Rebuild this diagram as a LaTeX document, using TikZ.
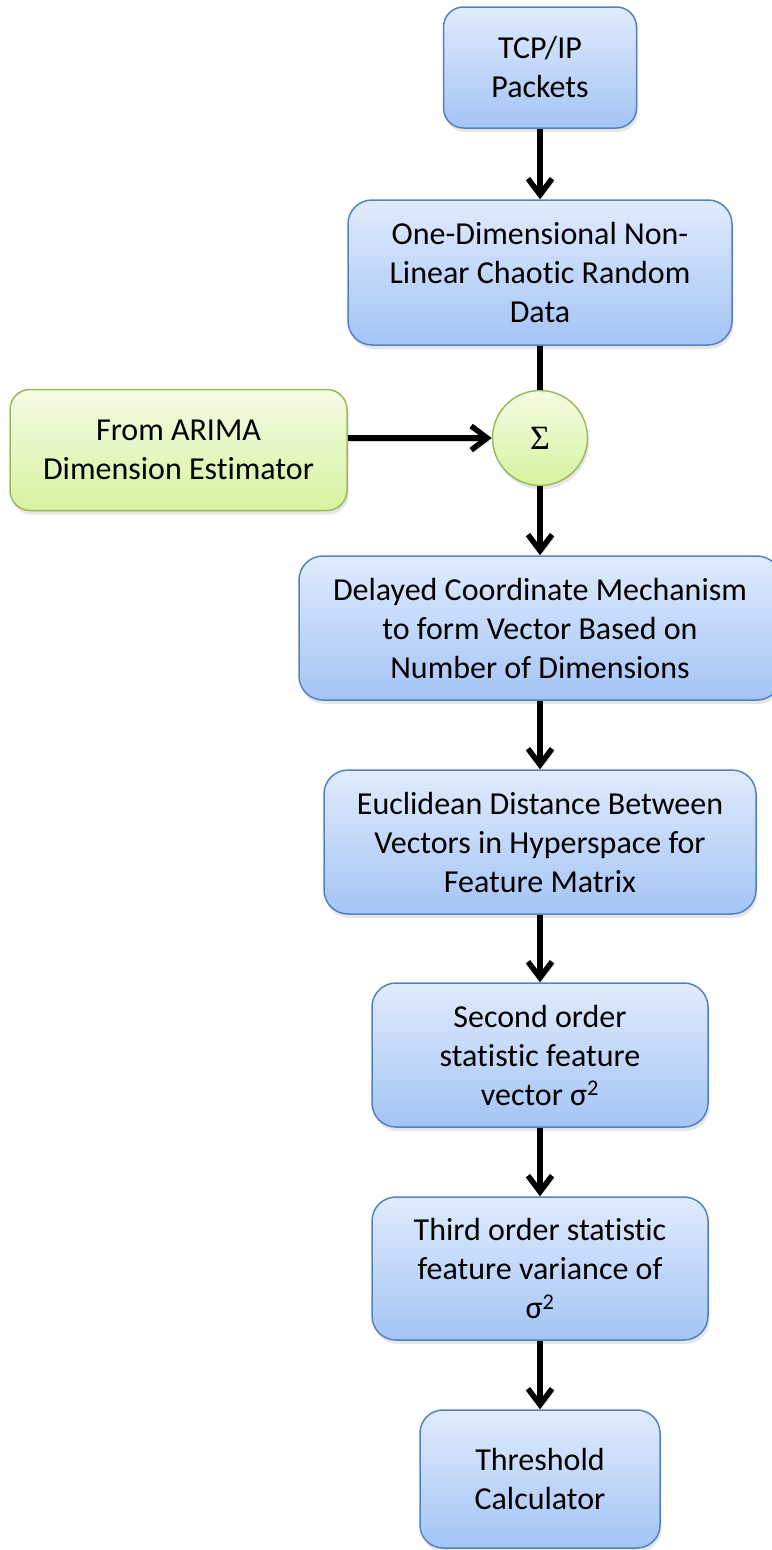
\documentclass[tikz,border=0pt]{standalone}
\usepackage{fontspec}
\setmainfont{Carlito}[Ligatures=NoCommon]
\newfontfamily\sumfont{Liberation Serif}
\usetikzlibrary{arrows.meta,shadows}

\definecolor{boxline}{RGB}{84,130,190}
\definecolor{boxtop}{RGB}{224,235,253}
\definecolor{boxbot}{RGB}{164,196,245}
\definecolor{grnline}{RGB}{155,187,89}
\definecolor{grntop}{RGB}{244,251,228}
\definecolor{grnbot}{RGB}{214,243,160}

\begin{document}
\begin{tikzpicture}[x=1pt,y=-1pt,
  basebox/.style={line width=1.5pt, align=center, inner sep=0pt,
    font=\fontsize{32}{39}\selectfont,
    drop shadow={opacity=0.2, shadow xshift=1.5pt, shadow yshift=-4pt}},
  bluebox/.style={basebox, draw=boxline, top color=boxtop, bottom color=boxbot},
  greenbox/.style={basebox, draw=grnline, top color=grntop, bottom color=grnbot},
  flow/.style={line width=5.5pt, draw=black,
    preaction={draw=black, opacity=0.18, transform canvas={shift={(2pt,-3pt)}}}},
  arr/.style={flow, -{Straight Barb[length=16pt,width=24pt]}}
]
\useasboundingbox (0,0) rectangle (771,1550);

% process chain
\node[bluebox, rounded corners=20pt, minimum width=193pt, minimum height=121pt]
  (tcp) at (540,67.5) {TCP/IP\\Packets};
\node[bluebox, rounded corners=24pt, minimum width=384pt, minimum height=145pt]
  (data) at (540,272.5) {One-Dimensional Non-\\Linear Chaotic Random\\Data};
\node[greenbox, rounded corners=20pt, minimum width=337pt, minimum height=121pt]
  (arima) at (178.5,450) {From ARIMA\\Dimension Estimator};
\node[greenbox, circle, minimum size=95pt, font=\sumfont\fontsize{34}{34}\selectfont]
  (sum) at (540,438) {Σ};
\node[bluebox, rounded corners=24pt, minimum width=482pt, minimum height=144pt]
  (delay) at (540,628) {Delayed Coordinate Mechanism\\to form Vector Based on\\Number of Dimensions};
\node[bluebox, rounded corners=24pt, minimum width=432pt, minimum height=144pt]
  (eucl) at (540,842) {Euclidean Distance Between\\Vectors in Hyperspace for\\Feature Matrix};
\node[bluebox, rounded corners=24pt, minimum width=336pt, minimum height=144pt]
  (second) at (540,1055) {Second order\\statistic feature\\vector σ\textsuperscript{2}};
\node[bluebox, rounded corners=24pt, minimum width=336pt, minimum height=143pt]
  (third) at (540,1268.5) {Third order statistic\\feature variance of\\σ\textsuperscript{2}};
\node[bluebox, rounded corners=23pt, minimum width=240pt, minimum height=138pt]
  (thresh) at (540,1479) {Threshold\\Calculator};

% connectors
\draw[arr] (tcp) -- (data);
\draw[flow] (data) -- (sum);
\draw[arr] (arima.east |- sum.west) -- (sum.west);
\draw[arr] (sum) -- (delay);
\draw[arr] (delay) -- (eucl);
\draw[arr] (eucl) -- (second);
\draw[arr] (second) -- (third);
\draw[arr] (third) -- (thresh);
\end{tikzpicture}
\end{document}
